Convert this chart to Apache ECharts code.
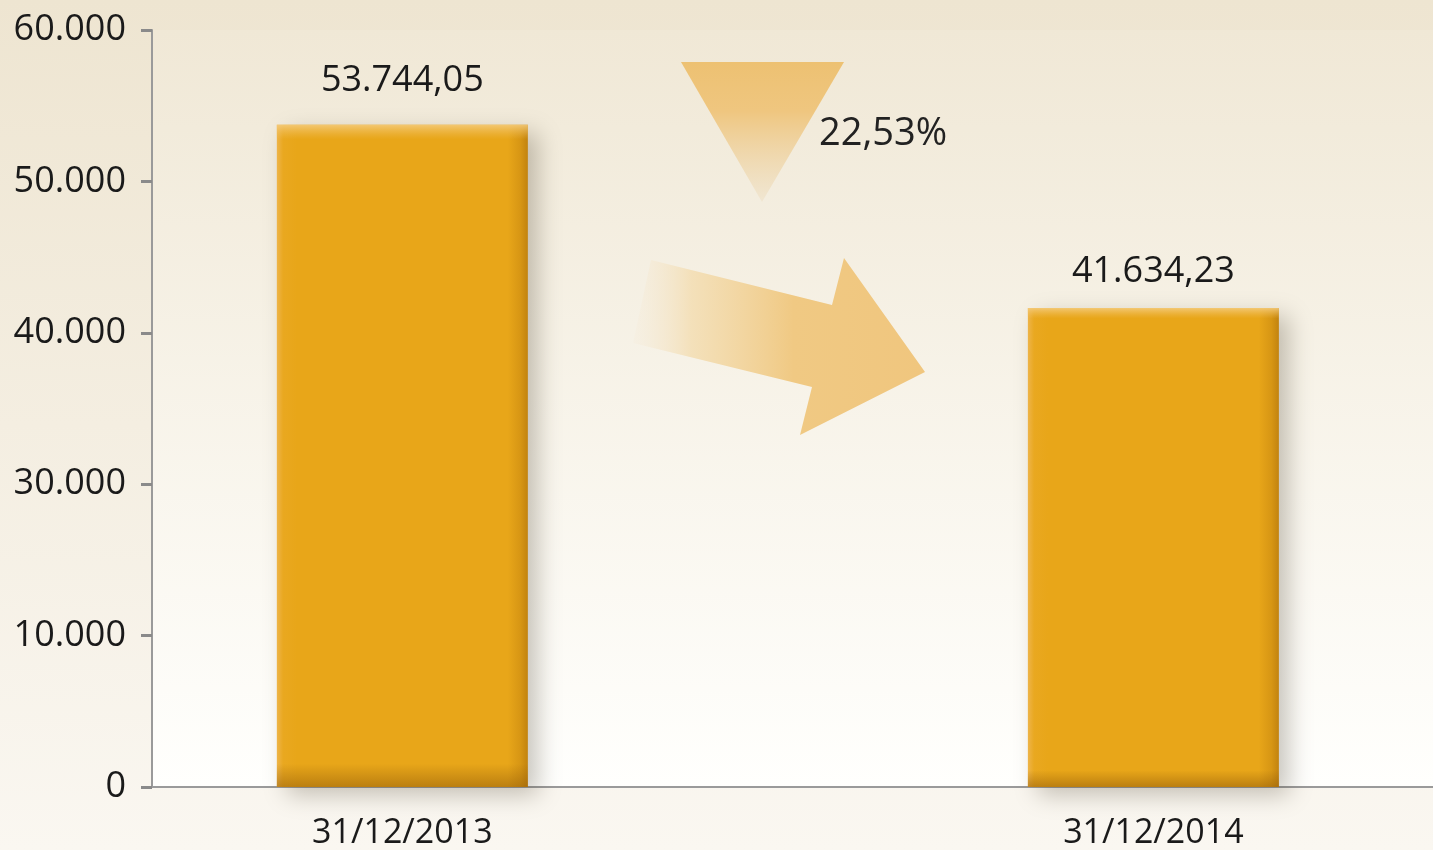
<!DOCTYPE html>
<html>
<head>
<meta charset="utf-8">
<script src="https://cdn.jsdelivr.net/npm/echarts@6/dist/echarts.min.js"></script>
<style>
html,body{margin:0;padding:0;background:#f4eee0;}
#chart{width:1433px;height:850px;}
</style>
</head>
<body>
<div id="chart"></div>
<script>
// ---- data ----
const categories = ['31/12/2013', '31/12/2014'];
const values = [53744.05, 41634.23];
// tick positions on the value scale and the labels printed at them (as in the original)
const yTickValues = [10000, 20000, 30000, 40000, 50000, 60000];
const yTickLabels = ['0', '10.000', '30.000', '40.000', '50.000', '60.000'];

// ---- helpers ----
function fmtNum(v, dec) {
  const parts = v.toFixed(dec).split('.');
  parts[0] = parts[0].replace(/\B(?=(\d{3})+(?!\d))/g, '.');
  return parts.join(',');
}
const change = (values[0] - values[1]) / values[0] * 100;
const changeText = fmtNum(change, 2) + '%';

// category slot positions along a value x-axis (layout only)
const slotOf = i => 1 + 3 * i;
const labelDist = [26, 18];
const barData = values.map((v, i) => ({ value: [slotOf(i), v], label: { distance: labelDist[i] } }));
const barDataPlain = values.map((v, i) => [slotOf(i), v]);
const labelPos = categories.map((c, i) => slotOf(i));

const FONT = '"Open Sans", "Noto Sans", sans-serif';
const chart = echarts.init(document.getElementById('chart'));

const option = {
  animation: false,
  backgroundColor: new echarts.graphic.LinearGradient(0, 0, 0, 1, [
    { offset: 0, color: '#eee5d1' },
    { offset: 1, color: '#faf7f1' }
  ]),
  grid: {
    left: 152, right: 0, top: 30, bottom: 62,
    show: true, borderWidth: 0,
    backgroundColor: new echarts.graphic.LinearGradient(0, 0, 0, 1, [
      { offset: 0, color: '#f0e8d6' },
      { offset: 1, color: '#fffffd' }
    ])
  },
  xAxis: {
    type: 'value', min: 0, max: 5.117,
    splitLine: { show: false },
    axisLine: { show: true, onZero: false, lineStyle: { color: '#9a9a9a', width: 2 } },
    axisTick: { show: false },
    axisLabel: {
      customValues: labelPos,
      formatter: v => { const i = labelPos.indexOf(v); return i >= 0 ? categories[i] : ''; },
      margin: 29, fontSize: 34, color: '#1a1a1a', fontFamily: FONT
    }
  },
  yAxis: {
    type: 'value', min: 10000, max: 60000, interval: 10000,
    splitLine: { show: false },
    axisLine: { show: true, lineStyle: { color: '#9a9a9a', width: 2 } },
    axisTick: { show: true, length: 11, lineStyle: { color: '#8a8a8a', width: 3 } },
    axisLabel: {
      formatter: v => { const i = yTickValues.indexOf(v); return i >= 0 ? yTickLabels[i] : ''; },
      margin: 26, fontSize: 36, color: '#1a1a1a', fontFamily: FONT
    }
  },
  series: [
    {
      type: 'bar', data: barData, barWidth: 251, z: 2,
      itemStyle: {
        color: new echarts.graphic.LinearGradient(0, 0, 1, 0, [
          { offset: 0, color: '#eeb449' },
          { offset: 0.025, color: '#e9a820' },
          { offset: 0.08, color: '#e8a619' },
          { offset: 0.92, color: '#e8a619' },
          { offset: 0.97, color: '#d79614' },
          { offset: 1, color: '#c2830f' }
        ]),
        shadowBlur: 22, shadowColor: 'rgba(60,50,30,0.28)', shadowOffsetX: 10, shadowOffsetY: 8
      },
      label: {
        show: true, position: 'top', distance: 26,
        formatter: p => fmtNum(p.value[1], 2),
        fontSize: 36, color: '#1a1a1a', fontFamily: FONT
      }
    },
    {
      type: 'bar', data: barDataPlain, barWidth: 251, barGap: '-100%', z: 3, silent: true,
      itemStyle: {
        color: new echarts.graphic.LinearGradient(0, 0, 0, 1, [
          { offset: 0, color: 'rgba(245,205,130,0.85)' },
          { offset: 0.022, color: 'rgba(240,190,90,0.0)' },
          { offset: 0.965, color: 'rgba(150,95,10,0.0)' },
          { offset: 1, color: 'rgba(150,95,10,0.55)' }
        ])
      }
    }
  ],
  graphic: [
    {
      type: 'polygon', z: 1,
      shape: { points: [[681, 62], [844, 62], [762, 202]] },
      style: {
        fill: new echarts.graphic.LinearGradient(0, 0, 0, 1, [
          { offset: 0, color: '#edc172' },
          { offset: 0.35, color: '#efc67f' },
          { offset: 1, color: 'rgba(238,225,200,0.6)' }
        ])
      }
    },
    {
      type: 'polygon', z: 1,
      shape: { points: [[651, 260], [832, 305], [844, 258], [925, 372], [800, 435], [812, 387], [633, 343]] },
      style: {
        fill: new echarts.graphic.LinearGradient(0, 0, 1, 0, [
          { offset: 0, color: 'rgba(245,236,220,0.3)' },
          { offset: 0.2, color: 'rgba(243,220,175,0.8)' },
          { offset: 0.55, color: '#f0c983' },
          { offset: 1, color: '#f0c67e' }
        ])
      }
    },
    {
      type: 'text', left: 819, top: 115, z: 5,
      style: { text: changeText, fontSize: 38, fill: '#222222', fontFamily: FONT }
    }
  ]
};
chart.setOption(option);
</script>
</body>
</html>
